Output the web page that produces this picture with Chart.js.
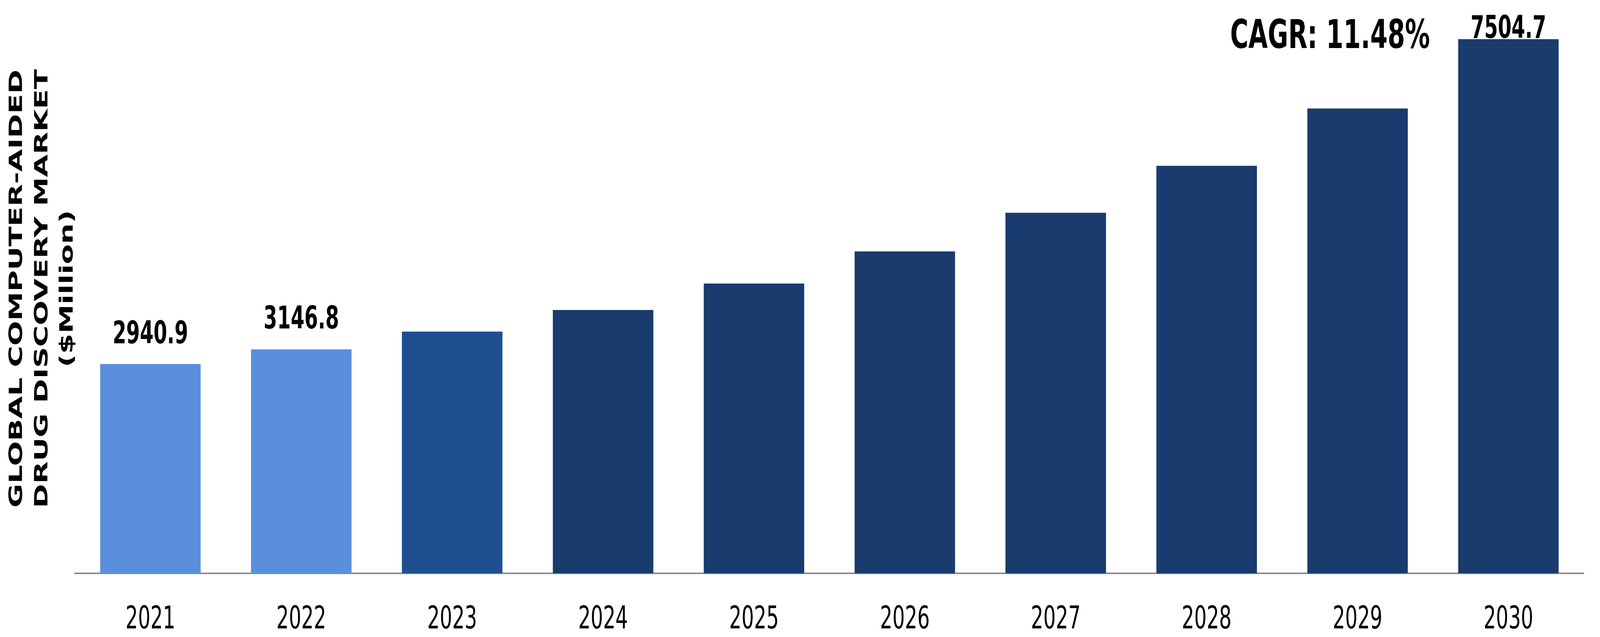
<!DOCTYPE html>
<html>
<head>
<meta charset="utf-8">
<script src="https://cdn.jsdelivr.net/npm/chart.js@4"></script>
<style>
  html, body { margin: 0; padding: 0; background: #ffffff; overflow: hidden; }
  canvas { display: block; }
</style>
</head>
<body>
<!-- drawn at the reference size, stretched to whatever the window really is -->
<canvas id="chart" width="6543" height="1631" style="width:100vw;height:100vh"></canvas>
<script>
// values
const years = ['2021', '2022', '2023', '2024', '2025', '2026', '2027', '2028', '2029', '2030']
const marketValues = [2940.9, 3146.8, 3397, 3700, 4072, 4523, 5066, 5725, 6531, 7504.7]
const labelledYears = ['2021', '2022', '2030']
const axisTitle = ['GLOBAL COMPUTER-AIDED', 'DRUG DISCOVERY MARKET', '($Million)']
const cagrText = 'CAGR: 11.48%'

const barColors = ['#5b8fdb', '#5b8fdb', '#1f4f91', '#193b6e', '#193b6e',
                   '#193b6e', '#193b6e', '#193b6e', '#193b6e', '#193b6e']

const FONT = '"DejaVu Sans", Verdana, sans-serif'

// value labels above selected bars + CAGR note
const labelsPlugin = {
  id: 'valueLabels',
  afterDatasetsDraw(chart) {
    const ctx = chart.ctx
    const meta = chart.getDatasetMeta(0)
    ctx.save()
    ctx.fillStyle = '#000'
    ctx.textAlign = 'center'
    ctx.textBaseline = 'alphabetic'
    ctx.font = 'bold 80px ' + FONT
    years.forEach((year, i) => {
      if (!labelledYears.includes(year)) return
      const bar = meta.data[i]
      // the last one has no room above the bar, it sits right on it
      const y = Math.max(bar.y - 53, 97)
      ctx.fillText(String(marketValues[i]), bar.x, y)
    })

    ctx.font = 'bold 102px ' + FONT
    ctx.fillText(cagrText, chart.chartArea.right - 1038, 123)
    ctx.restore()
  }
}

const ctx = document.getElementById('chart').getContext('2d')
new Chart(ctx, {
  type: 'bar',
  data: {
    labels: years,
    datasets: [{
      data: marketValues,
      backgroundColor: barColors,
      borderWidth: 0,
      categoryPercentage: 1,
      barPercentage: 0.666
    }]
  },
  options: {
    responsive: false,
    devicePixelRatio: 1,
    animation: false,
    layout: {
      // x axis reserves its tick padding twice, give the extra back at the bottom
      padding: { top: 10, right: 66, bottom: -77, left: 0 }
    },
    plugins: {
      legend: { display: false },
      tooltip: { enabled: false }
    },
    scales: {
      x: {
        grid: { display: false, drawTicks: false },
        border: { display: true, color: '#8c8c8c', width: 4 },
        ticks: {
          color: '#000',
          padding: 72,
          font: { family: FONT, size: 80, lineHeight: 1.2 }
        }
      },
      y: {
        min: 0,
        max: 8000,
        grid: { display: false, drawTicks: false },
        border: { display: false },
        ticks: { display: false },
        title: {
          display: true,
          text: axisTitle,
          color: '#000',
          padding: { top: 19, bottom: -23 },
          font: { family: FONT, size: 75, weight: 'bold', lineHeight: 1.38 }
        }
      }
    }
  },
  plugins: [labelsPlugin]
})
</script>
</body>
</html>
